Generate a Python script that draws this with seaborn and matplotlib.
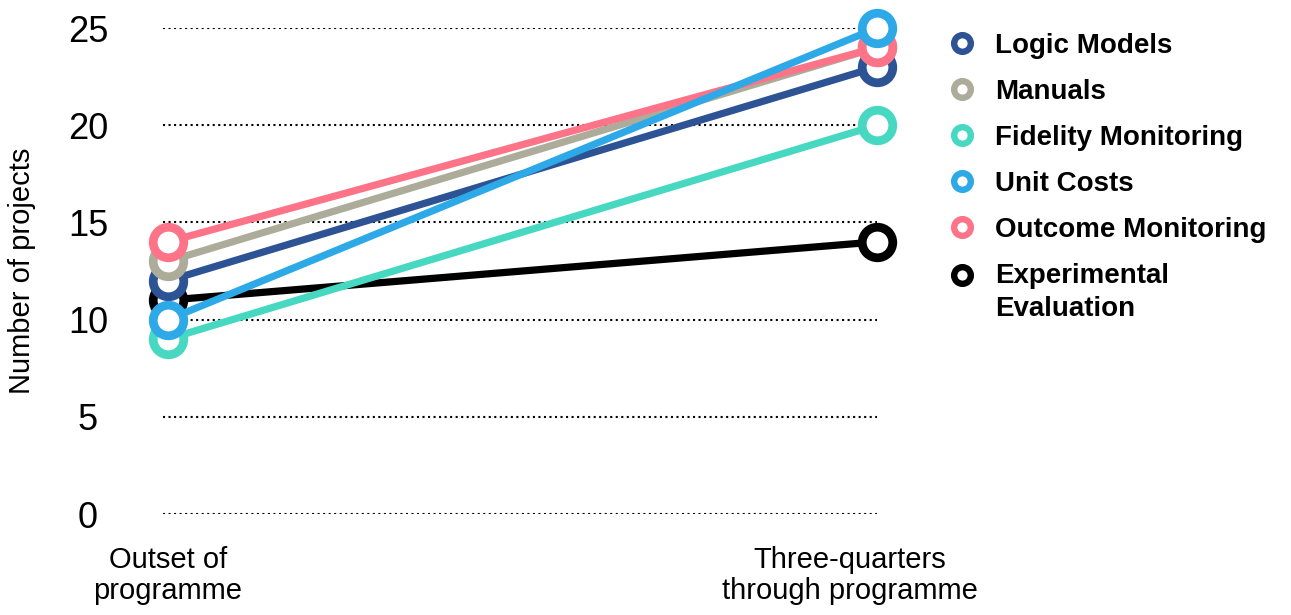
import matplotlib
matplotlib.use("Agg")
import matplotlib.pyplot as plt
import matplotlib.transforms as mtransforms
from matplotlib.lines import Line2D
from matplotlib.legend_handler import HandlerLine2D
import seaborn as sns
import pandas as pd

sns.set_style("white")
plt.rcParams["font.family"] = ["Liberation Sans", "DejaVu Sans"]
plt.rcParams["text.color"] = "black"
plt.rcParams["axes.labelcolor"] = "black"
plt.rcParams["xtick.color"] = "black"
plt.rcParams["ytick.color"] = "black"

# data
stages = ["Outset of\nprogramme", "Three-quarters\nthrough programme"]
series = ["Logic Models", "Manuals", "Fidelity Monitoring", "Unit Costs",
          "Outcome Monitoring", "Experimental Evaluation"]
outset = [12, 13, 9, 10, 14, 11]
three_quarters = [23, 24, 20, 25, 24, 14]
colors = ["#2D5395", "#ADAC9A", "#46D8C0", "#2EA9E8", "#FD7387", "#000000"]
legend_labels = ["Logic Models", "Manuals", "Fidelity Monitoring", "Unit Costs",
                 "Outcome Monitoring", "Experimental\nEvaluation"]
draw_order = ["Experimental Evaluation", "Fidelity Monitoring", "Logic Models",
              "Manuals", "Outcome Monitoring", "Unit Costs"]

df = pd.DataFrame({
    "series": series * 2,
    "stage": [0] * len(series) + [1] * len(series),
    "projects": outset + three_quarters,
})
palette = dict(zip(series, colors))


class TopAlignedHandler(HandlerLine2D):
    """Put the marker next to the first line of a two-line label"""
    def create_artists(self, legend, orig_handle, xdescent, ydescent,
                       width, height, fontsize, trans):
        arts = super().create_artists(legend, orig_handle, xdescent, ydescent,
                                      width, height, fontsize, trans)
        for a in arts:
            a.set_ydata([y + 12.5 for y in a.get_ydata()])
        return arts


fig = plt.figure(figsize=(12.91, 6.15), dpi=100)
ax = fig.add_axes([163 / 1291, 101 / 615, 714 / 1291, 486 / 615])

for name in draw_order:
    sub = df[df["series"] == name]
    sns.lineplot(data=sub, x="stage", y="projects", ax=ax, color=palette[name],
                 lw=5.2, marker="o", markersize=22, markerfacecolor="white",
                 markeredgecolor=palette[name], markeredgewidth=6.3,
                 clip_on=False, legend=False)

ax.set_xlim(-0.007, 1.0)
ax.set_ylim(0, 25)
ax.set_yticks([0, 5, 10, 15, 20, 25])
ax.set_xticks([0, 1])
ax.set_xticklabels(stages, fontsize=21, linespacing=1.15)
ax.tick_params(axis="x", length=0, pad=23)
ax.tick_params(axis="y", length=0, pad=54, labelsize=26)
for lab in ax.get_yticklabels():
    lab.set_horizontalalignment("center")
# right-hand stage label sits a little left of its points
shift = mtransforms.ScaledTranslation(-27 / 100, 0, fig.dpi_scale_trans)
xl = ax.get_xticklabels()[1]
xl.set_transform(xl.get_transform() + shift)

ax.grid(axis="y", color="black", linestyle=":", linewidth=1.5)
ax.grid(axis="x", visible=False)
for s in ax.spines.values():
    s.set_visible(False)

ax.set_xlabel("")
ax.set_ylabel("Number of projects", fontsize=21)
ax.yaxis.set_label_coords((22 - 163) / 714, 0.5)
ax.yaxis.label.set_verticalalignment("center")

handles = [Line2D([], [], ls="none", marker="o", markersize=12,
                  markerfacecolor="white", markeredgecolor=c, markeredgewidth=4.6)
           for c in colors]
leg = fig.legend(handles, legend_labels, loc="upper left",
                 bbox_to_anchor=(951 / 1291, 1 - 33 / 615), frameon=False,
                 prop={"size": 20, "weight": "bold"}, handlelength=0.8,
                 handletextpad=0.79, labelspacing=0.72, borderpad=0,
                 borderaxespad=0,
                 handler_map={handles[-1]: TopAlignedHandler()})
for t in leg.get_texts():
    t.set_linespacing(1.35)

fig.savefig("out.png", dpi=100)
